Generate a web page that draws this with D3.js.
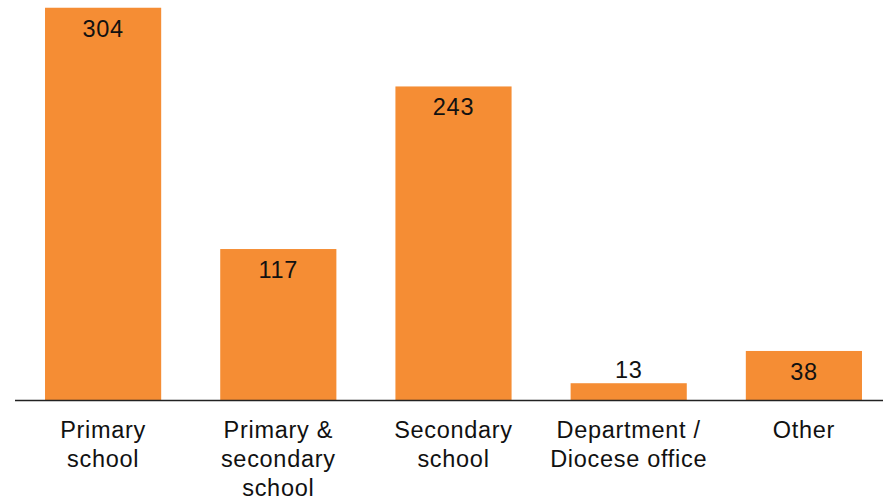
<!DOCTYPE html>
<html>
<head>
<meta charset="utf-8">
<script src="https://cdn.jsdelivr.net/npm/d3@7/dist/d3.min.js"></script>
<style>
  html, body { margin: 0; padding: 0; background: #fff; }
  svg { display: block; font-family: Arial, "Liberation Sans", sans-serif; }
</style>
</head>
<body>
<svg id="chart" width="883" height="501"></svg>
<script>
// Respondents by workplace
const categories = ["Primary school", "Primary & secondary school", "Secondary school", "Department / Diocese office", "Other"];
const categoryLines = [["Primary", "school"], ["Primary &", "secondary", "school"], ["Secondary", "school"], ["Department /", "Diocese office"], ["Other"]];
const counts = [304, 117, 243, 13, 38];

const width = 883, height = 501;
const baseline = 400;
const svg = d3.select("#chart");

const x = d3.scaleBand()
  .domain(categories)
  .range([15.5, 891.5])
  .paddingInner(0.337)
  .paddingOuter(0.1685);

const y = d3.scaleLinear()
  .domain([0, 310])
  .range([baseline, 0]);

const data = categories.map((c, i) => ({ cat: c, value: counts[i], lines: categoryLines[i] }));

// bars
svg.append("g").selectAll("rect")
  .data(data)
  .join("rect")
  .attr("x", d => x(d.cat))
  .attr("y", d => y(d.value))
  .attr("width", x.bandwidth())
  .attr("height", d => baseline - y(d.value))
  .attr("fill", "#F58D34");

// value labels: inside the top of the bar, or above it when the bar is short
svg.append("g").selectAll("text")
  .data(data)
  .join("text")
  .attr("x", d => x(d.cat) + x.bandwidth() / 2)
  .attr("y", d => (baseline - y(d.value)) > 40 ? y(d.value) + 29 : y(d.value) - 5)
  .attr("text-anchor", "middle")
  .attr("font-size", 23.5)
  .attr("letter-spacing", 0.7)
  .attr("fill", "#111")
  .text(d => d.value);

// baseline axis
svg.append("line")
  .attr("x1", 15).attr("x2", width)
  .attr("y1", baseline + 0.5).attr("y2", baseline + 0.5)
  .attr("stroke", "#222")
  .attr("stroke-width", 1.5);

// category labels
const cat = svg.append("g").selectAll("text")
  .data(data)
  .join("text")
  .attr("x", d => x(d.cat) + x.bandwidth() / 2)
  .attr("y", 438)
  .attr("text-anchor", "middle")
  .attr("font-size", 23.5)
  .attr("letter-spacing", 0.7)
  .attr("fill", "#111");

cat.selectAll("tspan")
  .data(d => d.lines.map(l => ({ l, cx: x(d.cat) + x.bandwidth() / 2 })))
  .join("tspan")
  .attr("x", t => t.cx)
  .attr("dy", (t, i) => i === 0 ? 0 : 29)
  .text(t => t.l);
</script>
</body>
</html>
